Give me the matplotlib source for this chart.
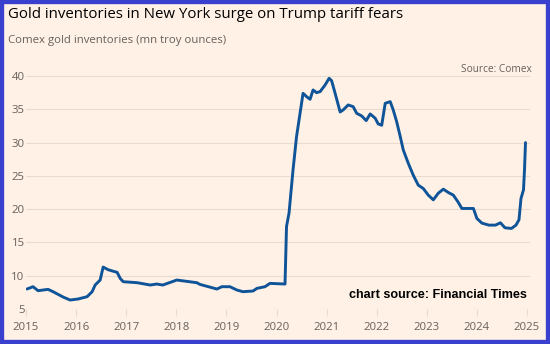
import matplotlib
matplotlib.use("Agg")
import matplotlib.pyplot as plt
from matplotlib.patches import Rectangle

# Comex gold inventories, mn troy ounces (decimal year, value)
years = [2015.02, 2015.14, 2015.24, 2015.44, 2015.54, 2015.74, 2015.88, 2016.04,
         2016.22, 2016.32, 2016.38, 2016.48, 2016.54, 2016.64, 2016.82, 2016.88,
         2016.94, 2017.22, 2017.48, 2017.61, 2017.73, 2018.01, 2018.41, 2018.47,
         2018.81, 2018.91, 2019.07, 2019.21, 2019.33, 2019.53, 2019.61, 2019.77,
         2019.87, 2020.17, 2020.20, 2020.25, 2020.33, 2020.40, 2020.47, 2020.53,
         2020.60, 2020.67, 2020.73, 2020.80, 2020.87, 2020.97, 2021.05, 2021.10,
         2021.17, 2021.27, 2021.33, 2021.43, 2021.53, 2021.60, 2021.70, 2021.79,
         2021.87, 2021.97, 2022.03, 2022.10, 2022.17, 2022.27, 2022.33, 2022.40,
         2022.47, 2022.53, 2022.63, 2022.73, 2022.83, 2022.93, 2023.03, 2023.13,
         2023.23, 2023.33, 2023.43, 2023.53, 2023.63, 2023.70, 2023.82, 2023.93,
         2024.00, 2024.10, 2024.24, 2024.37, 2024.47, 2024.56, 2024.69, 2024.78,
         2024.84, 2024.88, 2024.93, 2024.95, 2024.97]
inventories = [8.0, 8.35, 7.75, 7.95, 7.6, 6.8, 6.35, 6.5,
               6.85, 7.6, 8.6, 9.35, 11.3, 10.9, 10.5, 9.6,
               9.1, 8.95, 8.6, 8.75, 8.6, 9.35, 8.95, 8.7,
               8.0, 8.35, 8.35, 7.85, 7.6, 7.7, 8.1, 8.35,
               8.85, 8.75, 17.4, 19.4, 25.9, 30.9, 34.4, 37.4,
               36.9, 36.5, 37.9, 37.5, 37.65, 38.65, 39.65, 39.3,
               37.4, 34.6, 34.9, 35.65, 35.4, 34.4, 34.0, 33.3,
               34.3, 33.65, 32.8, 32.6, 35.9, 36.15, 34.9, 33.1,
               30.9, 28.9, 26.9, 25.1, 23.6, 23.1, 22.1, 21.4,
               22.4, 23.0, 22.5, 22.1, 21.0, 20.1, 20.1, 20.1,
               18.6, 17.9, 17.6, 17.6, 17.95, 17.2, 17.1, 17.6,
               18.4, 21.6, 22.9, 25.9, 30.0]

x_ticks = list(range(2015, 2026))
y_ticks = [5, 10, 15, 20, 25, 30, 35, 40]

title = "Gold inventories in New York surge on Trump tariff fears"
subtitle = "Comex gold inventories (mn troy ounces)"
source = "Source: Comex"
credit = "chart source: Financial Times"

BG = "#fff1e5"
LINE = "#0f5499"
GRID = "#e9dccf"
TEXT_GREY = "#66605c"

W, H = 550, 344
fig = plt.figure(figsize=(W / 100, H / 100), dpi=100, facecolor=BG)

# plot area in pixel coordinates
left_px, right_px, bottom_px, top_px = 26, 530, 309, 62
ax = fig.add_axes([left_px / W, (H - bottom_px) / H,
                   (right_px - left_px) / W, (bottom_px - top_px) / H])
ax.set_facecolor(BG)

ax.plot(years, inventories, color=LINE, lw=2.1, solid_joinstyle="round",
        solid_capstyle="round", zorder=3)

ax.set_xlim(2015.0, 2015.0 + (right_px - left_px) / 50.1)
ax.set_ylim(5, 40 + (76 - top_px) / 6.657)

ax.set_yticks(y_ticks)
ax.set_xticks(x_ticks)
ax.set_xticklabels([str(y) for y in x_ticks])
for s in ax.spines.values():
    s.set_visible(False)
ax.grid(axis="y", color=GRID, lw=0.8, zorder=0)
ax.tick_params(axis="y", length=0, pad=1, labelsize=8.2, labelcolor=TEXT_GREY)
ax.tick_params(axis="x", length=5, width=0.8, color=GRID, pad=4,
               labelsize=8.2, labelcolor=TEXT_GREY)
for lbl in ax.get_xticklabels() + ax.get_yticklabels():
    lbl.set_fontfamily("Open Sans")

fig.text(8 / W, 1 - 15 / H, title, fontsize=10.8, color="black",
         family="Open Sans", va="center", ha="left")
fig.text(8 / W, 1 - 40 / H, subtitle, fontsize=8.2, color=TEXT_GREY,
         family="Open Sans", va="center", ha="left")
fig.text(532 / W, 1 - 69 / H, source, fontsize=7.3, color=TEXT_GREY,
         family="Open Sans", va="center", ha="right")
fig.text(527 / W, 1 - 295 / H, credit, fontsize=9.1, color="black",
         family="Liberation Sans", weight="bold", va="center", ha="right")

# blue frame round the whole figure
fig.patches.append(Rectangle((0, 0), 1, 1, transform=fig.transFigure,
                             fill=False, edgecolor="#3a3fd0", lw=6,
                             zorder=10))

fig.savefig("out.png", dpi=100, facecolor=BG)
